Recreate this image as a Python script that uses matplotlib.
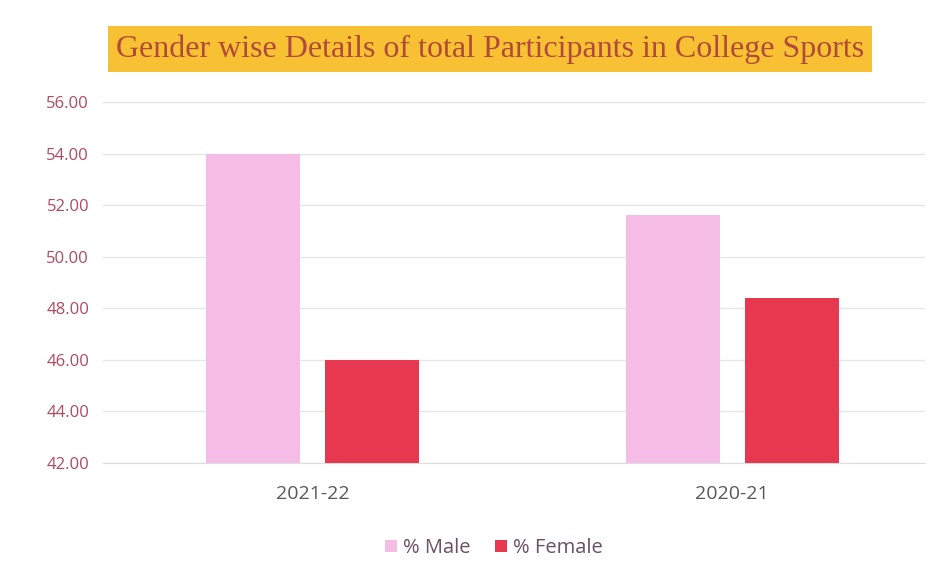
import matplotlib.pyplot as plt
import numpy as np

plt.rcParams.update({
  'font.family'      : 'Open Sans',
  'figure.facecolor' : 'w',
  'figure.dpi'       : 100,
  'figure.figsize'   : (9.3, 5.82),
})

# Data
years = ['2021-22', '2020-21']
male = [54.0, 51.6]
female = [46.0, 48.4]
series = ['% Male', '% Female']

x = np.arange(len(years))
bar_width = 0.224
offset = 0.142

fig = plt.figure()
ax = fig.add_axes([103/930, 1 - 463/582, (925 - 103)/930, (463 - 102)/582])

ax.bar(x - offset, male, bar_width, bottom=0, color='#F5BDE6', label=series[0], zorder=3)
ax.bar(x + offset, female, bar_width, bottom=0, color='#E63950', label=series[1], zorder=3)

ax.set_ylim(42, 56)
ax.set_xlim(-0.5, 1.46)
ax.set_yticks(np.arange(42, 57, 2))
ax.set_yticklabels([f"{v:.2f}" for v in np.arange(42, 57, 2)])
ax.set_xticks(x)
ax.set_xticklabels(years)

ax.grid(axis='y', color='#E6E6E6', linewidth=1, zorder=0)
for s in ['top', 'right', 'left']:
    ax.spines[s].set_visible(False)
ax.spines['bottom'].set_color('#DDDDDD')
ax.tick_params(axis='both', length=0)
ax.tick_params(axis='y', labelsize=12, labelcolor='#B04A60', pad=10)
ax.tick_params(axis='x', labelsize=14, labelcolor='#595959', pad=16)

# title in a yellow box
fig.text(490/930, 1 - 49/582, 'Gender wise Details of total Participants in College Sports',
         family='Liberation Serif', fontsize=23, color='#B04A3A', ha='center', va='center',
         bbox=dict(boxstyle='square,pad=0.25', facecolor='#F8C133', edgecolor='none'))

fig.legend(loc='center', bbox_to_anchor=(494/930, 1 - 548/582), ncol=2, frameon=False,
           fontsize=14.5, handlelength=0.6, handleheight=0.6, handletextpad=0.3,
           columnspacing=1.2, labelcolor='#6A5060')

plt.savefig('out.png')
